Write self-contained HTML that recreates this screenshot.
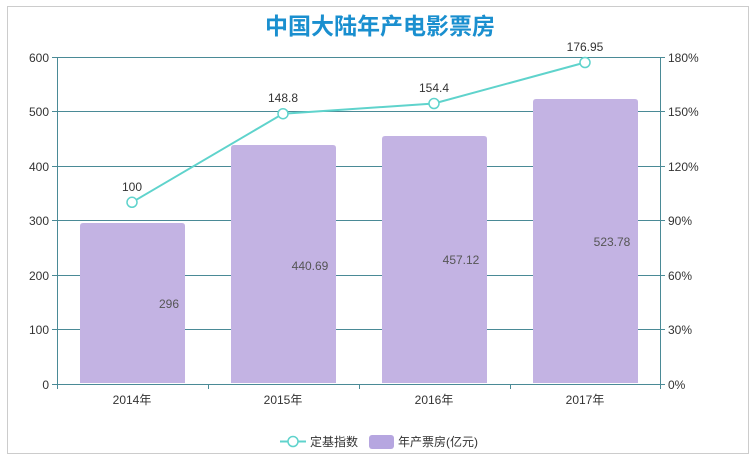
<!DOCTYPE html>
<html><head><meta charset="utf-8"><style>
body{margin:0;background:#fff;width:756px;height:460px;overflow:hidden}
text{font-family:"Liberation Sans","Noto Sans CJK SC",sans-serif}
</style></head><body>
<svg width="756" height="460" xmlns="http://www.w3.org/2000/svg">
<rect x="7.5" y="6.5" width="741" height="447" fill="#fff" stroke="#ccc"/>
<text x="380" y="34" text-anchor="middle" font-size="23" font-weight="bold" fill="#1a8fcf" font-family="'Noto Sans CJK SC',sans-serif">中国大陆年产电影票房</text>
<g stroke="#4a8a96" stroke-width="1">
<line x1="57" y1="57.5" x2="660" y2="57.5"/>
<line x1="57" y1="111.5" x2="660" y2="111.5"/>
<line x1="57" y1="166.5" x2="660" y2="166.5"/>
<line x1="57" y1="220.5" x2="660" y2="220.5"/>
<line x1="57" y1="275.5" x2="660" y2="275.5"/>
<line x1="57" y1="329.5" x2="660" y2="329.5"/>
<line x1="57" y1="384.5" x2="660" y2="384.5"/>
<line x1="57.5" y1="57" x2="57.5" y2="384"/>
<line x1="660.5" y1="57" x2="660.5" y2="384"/>
<line x1="52" y1="57.5" x2="57" y2="57.5"/><line x1="52" y1="111.5" x2="57" y2="111.5"/><line x1="52" y1="166.5" x2="57" y2="166.5"/><line x1="52" y1="220.5" x2="57" y2="220.5"/><line x1="52" y1="275.5" x2="57" y2="275.5"/><line x1="52" y1="329.5" x2="57" y2="329.5"/><line x1="52" y1="384.5" x2="57" y2="384.5"/>
<line x1="660" y1="57.5" x2="665" y2="57.5"/><line x1="660" y1="111.5" x2="665" y2="111.5"/><line x1="660" y1="166.5" x2="665" y2="166.5"/><line x1="660" y1="220.5" x2="665" y2="220.5"/><line x1="660" y1="275.5" x2="665" y2="275.5"/><line x1="660" y1="329.5" x2="665" y2="329.5"/><line x1="660" y1="384.5" x2="665" y2="384.5"/>
<line x1="208.5" y1="384" x2="208.5" y2="389"/><line x1="359.5" y1="384" x2="359.5" y2="389"/><line x1="510.5" y1="384" x2="510.5" y2="389"/><line x1="57.5" y1="384" x2="57.5" y2="389"/><line x1="660.5" y1="384" x2="660.5" y2="389"/>
</g>
<g font-size="12" fill="#333" text-anchor="end">
<text x="49" y="62">600</text><text x="49" y="116">500</text><text x="49" y="171">400</text><text x="49" y="225">300</text><text x="49" y="280">200</text><text x="49" y="334">100</text><text x="49" y="389">0</text>
</g>
<g font-size="12" fill="#333">
<text x="668" y="62">180%</text><text x="668" y="116">150%</text><text x="668" y="171">120%</text><text x="668" y="225">90%</text><text x="668" y="280">60%</text><text x="668" y="334">30%</text><text x="668" y="389">0%</text>
</g>
<g font-size="12" fill="#333" text-anchor="middle" font-family="'Noto Sans CJK SC',sans-serif">
<text x="132" y="404">2014年</text><text x="283" y="404">2015年</text><text x="434" y="404">2016年</text><text x="585" y="404">2017年</text>
</g>
<g fill="#c3b3e3">
<path d="M80,383 V226 q0,-3 3,-3 H182 q3,0 3,3 V383 Z"/>
<path d="M231,383 V148 q0,-3 3,-3 H333 q3,0 3,3 V383 Z"/>
<path d="M382,383 V139 q0,-3 3,-3 H484 q3,0 3,3 V383 Z"/>
<path d="M533,383 V102 q0,-3 3,-3 H635 q3,0 3,3 V383 Z"/>
</g>
<g font-size="12" fill="#555" text-anchor="middle">
<text x="169" y="308">296</text><text x="310" y="270">440.69</text><text x="461" y="264">457.12</text><text x="612" y="246">523.78</text>
</g>
<polyline points="132,202.3 283,113.7 434,103.5 585,62.5" fill="none" stroke="#5fd3cc" stroke-width="2"/>
<g fill="#fff" stroke="#5fd3cc" stroke-width="1.5">
<circle cx="132" cy="202.3" r="5"/><circle cx="283" cy="113.7" r="5"/><circle cx="434" cy="103.5" r="5"/><circle cx="585" cy="62.5" r="5"/>
</g>
<g font-size="12" fill="#333" text-anchor="middle">
<text x="132" y="191">100</text><text x="283" y="102">148.8</text><text x="434" y="92">154.4</text><text x="585" y="51">176.95</text>
</g>
<line x1="280" y1="441.5" x2="306" y2="441.5" stroke="#5fd3cc" stroke-width="2"/>
<circle cx="293" cy="441.5" r="5" fill="#fff" stroke="#5fd3cc" stroke-width="1.5"/>
<text x="310" y="446" font-size="12" fill="#333" font-family="'Noto Sans CJK SC',sans-serif">定基指数</text>
<rect x="369" y="435" width="25" height="14" rx="3" fill="#b6a6e0"/>
<text x="398" y="446" font-size="12" fill="#333" font-family="'Noto Sans CJK SC',sans-serif">年产票房(亿元)</text>
</svg>
</body></html>
